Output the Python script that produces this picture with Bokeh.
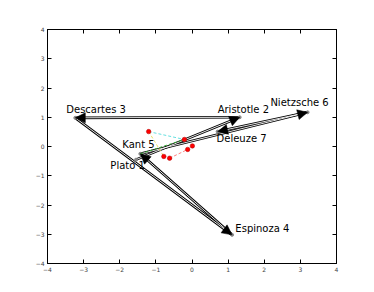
from bokeh.plotting import figure
from bokeh.models import (ColumnDataSource, Arrow, NormalHead, FixedTicker, Range1d,
                          LinearAxis)
from bokeh.core.properties import value
from bokeh.embed import file_html
from bokeh.resources import INLINE

# philosophers (in order of the arrows)
names = ["Plato 1", "Aristotle 2", "Descartes 3", "Espinoza 4", "Kant 5", "Nietzsche 6", "Deleuze 7"]
pt_x = [-1.55, 1.32, -3.23, 1.11, -1.43, 3.20, 0.71]
pt_y = [-0.45, 1.00, 0.98, -3.02, -0.25, 1.17, 0.51]
# label anchors (left, bottom)
lab_x = [-2.26, 0.71, -3.48, 1.20, -1.93, 2.17, 0.68]
lab_y = [-0.84, 1.09, 1.09, -2.99, -0.13, 1.33, 0.07]

# small red points
red_x = [-1.20, -0.21, 0.01, -0.12, -0.78, -0.62]
red_y = [0.51, 0.24, 0.02, -0.10, -0.34, -0.40]
# dashed links (index pairs into red points; -1 = Kant)
links = [(0, 1, "#66e0e0"), (0, 4, "#e6e066"), (5, 3, "#ff8080"), (-1, 1, "#33aa33")]

ticks = [-4, -3, -2, -1, 0, 1, 2, 3, 4]
tick_labels = ["\u22124", "\u22123", "\u22122", "\u22121", "0", "1", "2", "3", "4"]

p = figure(width=366, height=284, output_backend="svg", toolbar_location=None,
           x_range=Range1d(-4, 4), y_range=Range1d(-4, 4),
           min_border_left=47, min_border_right=30, min_border_top=29, min_border_bottom=21)
p.grid.visible = False
p.outline_line_color = "black"
p.outline_line_width = 1
p.background_fill_color = "white"
p.border_fill_color = "white"

overrides = {t: l for t, l in zip(ticks, tick_labels)}
for ax in list(p.xaxis) + list(p.yaxis):
    ax.ticker = FixedTicker(ticks=ticks)
    ax.major_label_overrides = overrides
    ax.major_tick_in = 4
    ax.major_tick_out = 0
    ax.minor_tick_line_color = None
    ax.axis_line_color = "black"
    ax.major_label_text_font = "DejaVu Sans"
    ax.major_label_text_font_size = "6px"
    ax.major_label_text_color = "#444444"
    ax.major_label_standoff = 3

for loc in ("above", "right"):
    ax = LinearAxis(ticker=FixedTicker(ticks=ticks), major_tick_in=4, major_tick_out=0,
                    minor_tick_line_color=None, major_label_text_color=None,
                    major_label_text_font_size="1px", major_label_standoff=0,
                    axis_line_color="black")
    p.add_layout(ax, loc)

# arrows between consecutive philosophers
src = ColumnDataSource(dict(x0=pt_x[:-1], y0=pt_y[:-1], x1=pt_x[1:], y1=pt_y[1:]))
p.segment("x0", "y0", "x1", "y1", source=src, line_color="black", line_width=2.6)
p.segment("x0", "y0", "x1", "y1", source=src, line_color="white", line_width=0.9)
p.add_layout(Arrow(end=NormalHead(size=10, fill_color="black", line_color="black", line_width=0.5),
                   x_start="x0", y_start="y0", x_end="x1", y_end="y1", source=src,
                   line_alpha=0))

# philosopher points
p.scatter(pt_x, pt_y, size=3, color="#888888")

# dashed links
for a, b, c in links:
    xa = pt_x[4] if a == -1 else red_x[a]
    ya = pt_y[4] if a == -1 else red_y[a]
    p.line([xa, red_x[b]], [ya, red_y[b]], line_color=c, line_dash="3 2", line_width=1)

p.scatter(red_x, red_y, size=4.5, fill_color="#ff0000", line_color="#aa0000", line_width=0.5)

p.text(lab_x, lab_y, text=names, text_font=value("DejaVu Sans"), text_font_size="10px",
       text_align="left", text_baseline="bottom", text_color="black")

open("out.html", "w").write(file_html(p, INLINE))
